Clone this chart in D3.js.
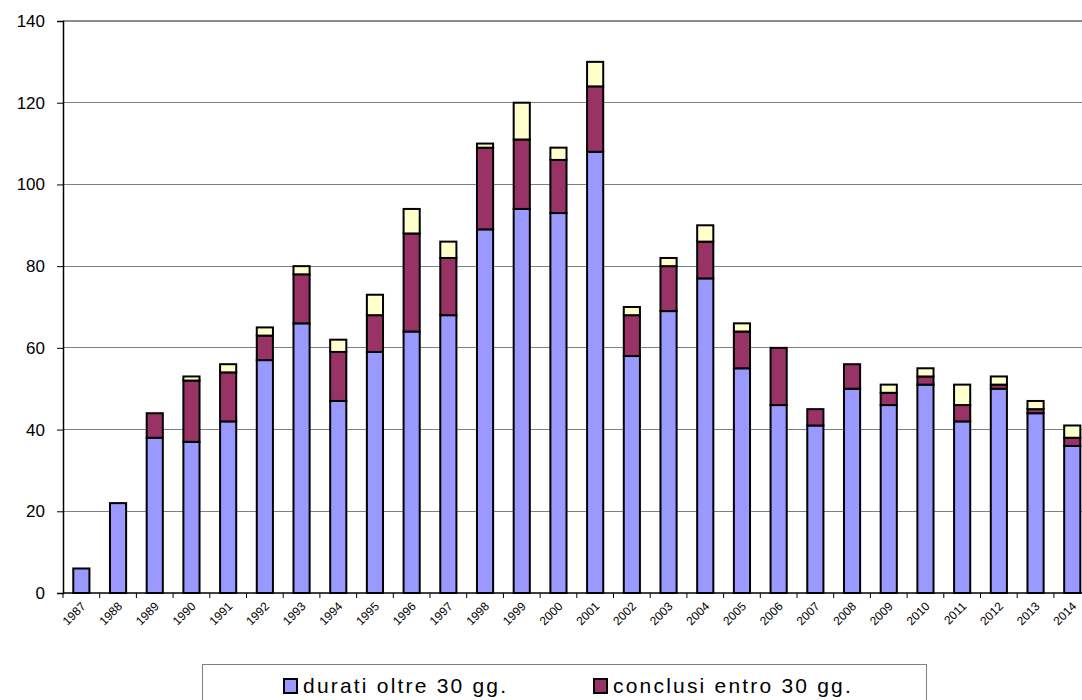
<!DOCTYPE html>
<html><head><meta charset="utf-8">
<script src="https://cdn.jsdelivr.net/npm/d3@7"></script>
<style>body{margin:0;background:#fff}svg{display:block}</style>
</head><body><svg id="c" width="1082" height="700"></svg>
<script>
const years = ["1987","1988","1989","1990","1991","1992","1993","1994","1995","1996","1997","1998","1999","2000","2001","2002","2003","2004","2005","2006","2007","2008","2009","2010","2011","2012","2013","2014"];
const durati =   [6,22,38,37,42,57,66,47,59,64,68,89,94,93,108,58,69,77,55,46,41,50,46,51,42,50,44,36];
const conclusi = [0,0,6,15,12,6,12,12,9,24,14,20,17,13,16,10,11,9,9,14,4,6,3,2,4,1,1,2];
const terzo =    [0,0,0,1,2,2,2,3,5,6,4,1,9,3,6,2,2,4,2,0,0,0,2,2,5,2,2,3];
const seriesNames = ["durati oltre 30 gg.","conclusi entro 30 gg."];
const colors = ["#9999FF","#993366","#FFFFCC"];
const yTicks = [0,20,40,60,80,100,120,140];

const svg = d3.select("#c");
const mLeft = 63, mTop = 21, mBottom = 593, bandW = 36.7;
const x = d3.scaleBand().domain(years).range([mLeft, mLeft + bandW*years.length]).paddingInner(0.56).paddingOuter(0.28);
const y = d3.scaleLinear().domain([0,140]).range([mBottom, mTop]);

// gridlines
svg.append("g").selectAll("line").data(yTicks.filter(d=>d>0)).join("line")
  .attr("x1", mLeft).attr("x2", 1082).attr("y1", d=>y(d)).attr("y2", d=>y(d))
  .attr("stroke", (d)=> d===140 ? "#8c8c8c" : "#808080").attr("stroke-width", d=> d===140?1.5:1)
  .attr("shape-rendering","crispEdges");

// stacked data
const table = years.map((yr,i)=>({year:yr, a:durati[i], b:conclusi[i], c:terzo[i]}));
const stack = d3.stack().keys(["a","b","c"])(table);
svg.append("g").selectAll("g").data(stack).join("g")
  .attr("fill",(d,i)=>colors[i])
  .selectAll("rect").data(d=>d.filter(p=>p[1]-p[0]>0)).join("rect")
  .attr("x", d=>x(d.data.year)).attr("width", x.bandwidth())
  .attr("y", d=>y(d[1])).attr("height", d=>y(d[0])-y(d[1]))
  .attr("stroke","#000").attr("stroke-width",2);

// y axis
const ya = svg.append("g").attr("transform",`translate(${mLeft},0)`)
  .call(d3.axisLeft(y).tickValues(yTicks).tickSize(6).tickPadding(12));
ya.select(".domain").attr("stroke","#000").attr("stroke-width",1.5);
ya.selectAll(".tick line").attr("stroke","#000");
ya.selectAll("text").attr("font-family","Liberation Sans, Arial, sans-serif").attr("font-size",17).attr("fill","#000");

// x axis
const xa = svg.append("g").attr("transform",`translate(0,${mBottom})`);
xa.append("line").attr("x1",mLeft).attr("x2",1082).attr("stroke","#000").attr("stroke-width",1.5);
xa.selectAll("line.t").data(d3.range(years.length+1)).join("line").attr("class","t")
  .attr("x1",i=>mLeft+i*bandW).attr("x2",i=>mLeft+i*bandW).attr("y1",0).attr("y2",5).attr("stroke","#000");
xa.selectAll("text").data(years).join("text")
  .attr("transform", d=>`translate(${x(d)+x.bandwidth()/2+5},${14}) rotate(-45)`)
  .attr("text-anchor","end").attr("font-family","Liberation Sans, Arial, sans-serif")
  .attr("font-size",12).attr("fill","#000").text(d=>d);

// legend
const lg = svg.append("g");
lg.append("rect").attr("x",202.5).attr("y",664.5).attr("width",724).attr("height",60)
  .attr("fill","#fff").attr("stroke","#808080").attr("stroke-width",1);
const items = [{x:283, name:seriesNames[0], c:colors[0]},{x:593, name:seriesNames[1], c:colors[1]}];
items.forEach(it=>{
  lg.append("rect").attr("x",it.x+1).attr("y",679).attr("width",13).attr("height",14)
    .attr("fill",it.c).attr("stroke","#000").attr("stroke-width",2);
  lg.append("text").attr("x",it.x+20).attr("y",693).attr("font-family","Liberation Sans, Arial, sans-serif")
    .attr("font-size",21).attr("letter-spacing",2.2).attr("fill","#000").text(it.name);
});
</script></body></html>
